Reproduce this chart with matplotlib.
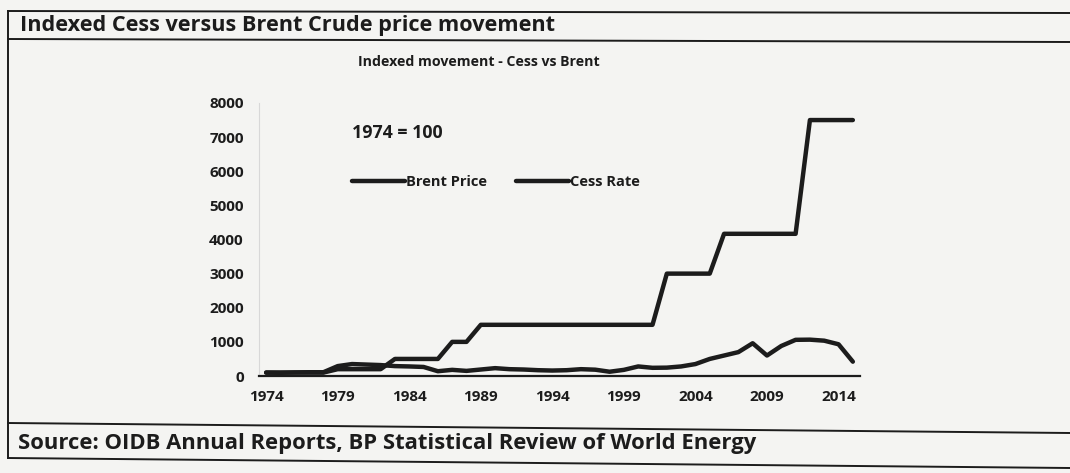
import matplotlib
matplotlib.use("Agg")
import matplotlib.pyplot as plt
from matplotlib.lines import Line2D

# ---- data ----
years = list(range(1974, 2016))
brent_index = [100, 95, 105, 110, 110, 290, 350, 335, 320, 290, 280, 265, 140, 180, 150,
               190, 230, 200, 190, 170, 160, 170, 200, 185, 125, 180, 280, 240, 245, 280,
               350, 500, 600, 700, 960, 600, 880, 1060, 1065, 1035, 930, 420]
cess_index = [100] * 5 + [200] * 4 + [500] * 4 + [1000] * 2 + [1500] * 13 + \
             [3000] * 4 + [4167] * 6 + [7500] * 4
xtick_years = [1974, 1979, 1984, 1989, 1994, 1999, 2004, 2009, 2014]
ytick_values = [0, 1000, 2000, 3000, 4000, 5000, 6000, 7000, 8000]

main_title = "Indexed Cess versus Brent Crude price movement"
chart_title = "Indexed movement - Cess vs Brent"
base_note = "1974 = 100"
source_text = "Source: OIDB Annual Reports, BP Statistical Review of World Energy"
series_names = ["Brent Price", "Cess Rate"]

FONT = ["Open Sans", "DejaVu Sans"]
plt.rcParams['font.family'] = FONT

W, H = 1070, 473
bg = '#f4f4f2'
ink = '#1c1c1c'
fig = plt.figure(figsize=(W / 100, H / 100), dpi=100, facecolor=bg)

def fx(px):
    return px / W

def fy(py):
    return 1 - py / H

ax = fig.add_axes([fx(259), fy(376), fx(860) - fx(259), fy(103) - fy(376)])
ax.set_facecolor('none')
ax.plot(years, brent_index, color=ink, lw=3.2, solid_capstyle='round',
        solid_joinstyle='round', label=series_names[0])
ax.plot(years, cess_index, color=ink, lw=3.2, solid_capstyle='round',
        solid_joinstyle='round', label=series_names[1])
ax.set_xlim(1973.5, 2015.5)
ax.set_ylim(0, 8000)
ax.set_xticks(xtick_years)
ax.set_xticklabels([str(y) for y in xtick_years], fontweight='bold', fontsize=11, color=ink)
ax.set_yticks(ytick_values)
ax.set_yticklabels([str(v) for v in ytick_values], fontweight='bold', fontsize=11, color=ink)
ax.tick_params(axis='both', length=0)
ax.tick_params(axis='x', pad=10)
ax.tick_params(axis='y', pad=11)
for s in ['top', 'right']:
    ax.spines[s].set_visible(False)
ax.spines['left'].set_color('#d8d8d8')
ax.spines['left'].set_linewidth(0.8)
ax.spines['bottom'].set_color(ink)
ax.spines['bottom'].set_linewidth(1.6)

ax.text(1980.0, 7125, base_note, fontsize=12.8, fontweight='bold', color=ink,
        ha='left', va='center')

leg = ax.legend(loc='center left', bbox_to_anchor=((352 - 259) / 601, (376 - 182) / 273),
                ncol=2, frameon=False, borderaxespad=0, borderpad=0,
                handlelength=3.6, handletextpad=0.1, columnspacing=2.0,
                prop={'weight': 'bold', 'size': 10.5, 'family': FONT})
for t in leg.get_texts():
    t.set_color(ink)

fig.text(fx(479), fy(62), chart_title, fontsize=10.2, fontweight='bold', color=ink,
         ha='center', va='center')
fig.text(fx(20), fy(25), main_title, fontsize=15.6, fontweight='bold', color=ink,
         ha='left', va='center')
fig.text(fx(18), fy(443), source_text, fontsize=15.8, fontweight='bold', color=ink,
         ha='left', va='center')

# frame lines of the printed box
frame = [((8, 1070), (11, 13)), ((8, 1070), (39, 42)), ((8, 1070), (423, 433)),
         ((8, 1070), (458, 468)), ((8, 8), (11, 458))]
for xs, ys in frame:
    fig.add_artist(Line2D([fx(xs[0]), fx(xs[1])], [fy(ys[0]), fy(ys[1])],
                          color=ink, lw=1.4, transform=fig.transFigure))

fig.savefig("out.png", dpi=100, facecolor=bg)
